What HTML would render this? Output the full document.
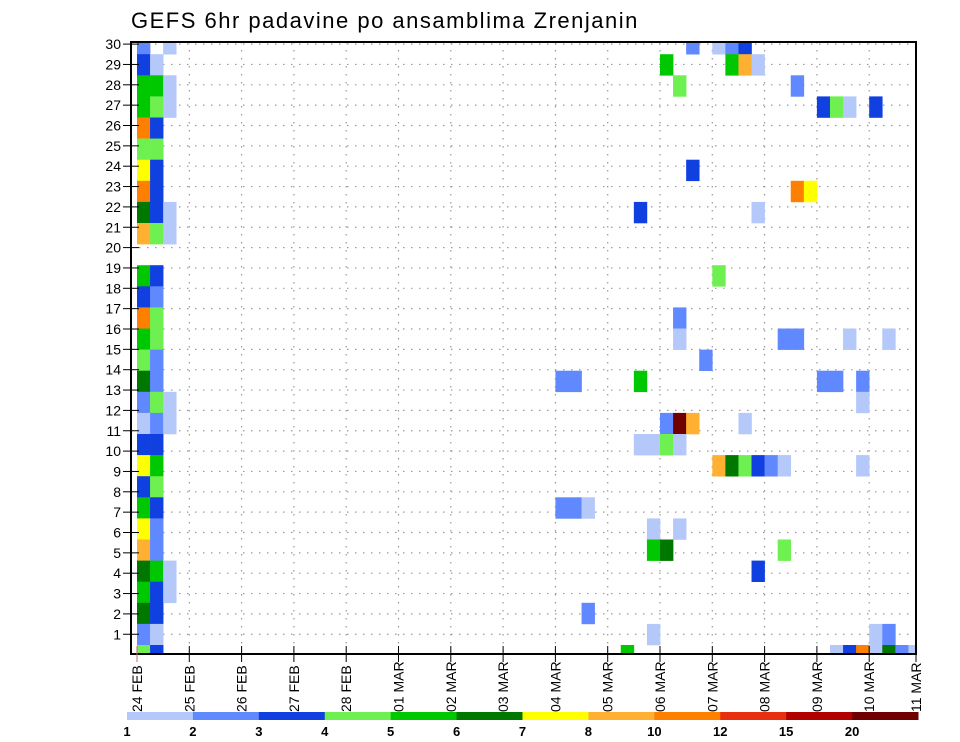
<!DOCTYPE html>
<html><head><meta charset="utf-8"><style>
html,body{margin:0;padding:0;background:#fff;}
svg{display:block;font-family:"Liberation Sans",sans-serif;}
</style></head><body>
<svg id="chart" width="960" height="742" viewBox="0 0 960 742">
<text x="131" y="28" font-size="22" letter-spacing="1.5" fill="#000">GEFS 6hr padavine po ansamblima Zrenjanin</text>
<defs><clipPath id="plotclip"><rect x="131" y="42" width="785" height="612"/></clipPath></defs>
<g id="grid"></g>
<g id="cells" clip-path="url(#plotclip)"></g>
<rect x="131" y="42" width="785" height="612" fill="none" stroke="#000" stroke-width="2"/>
<g id="yaxis"></g>
<g id="xaxis"></g>
<g id="colorbar"></g>
</svg>
<script>
// data arrays
const dayLabels = ["24 FEB","25 FEB","26 FEB","27 FEB","28 FEB","01 MAR","02 MAR","03 MAR","04 MAR","05 MAR","06 MAR","07 MAR","08 MAR","09 MAR","10 MAR","11 MAR"];
const yTickLabels = [1,2,3,4,5,6,7,8,9,10,11,12,13,14,15,16,17,18,19,20,21,22,23,24,25,26,27,28,29,30];
const levels = [1,2,3,4,5,6,7,8,10,12,15,20];
const levelColors = ["#b4c8fa","#6088ff","#1040e0","#6ef050","#00c800","#007800","#ffff00","#ffb030","#ff8000","#e83010","#b00000","#700000"];
const cellRow = [
29,29, 28,28, 27,27,27, 26,26,26, 25,25, 24,24, 23,23, 22,22, 21,21,21, 20,20,20,
18,18, 17,17, 16,16, 15,15, 14,14, 13,13, 12,12,12, 11,11,11, 10,10, 9,9, 8,8, 7,7, 6,6, 5,5, 4,4,4, 3,3,3, 2,2, 1,1, 0,0,
29,29,29,29, 28,28,28,28, 27,27, 26,26,26,26, 23, 22,22, 21,21, 18, 16, 15,15,15,15,15, 14,
13,13,13,13,13,13, 12, 11,11,11,11, 10,10,10,10, 9,9,9,9,9,9,9,
7,7,7, 6,6, 5,5,5, 4, 2, 1,1,1, 0,0,0,0,0,0,0,0];
const cellCol = [
0,2, 0,1, 0,1,2, 0,1,2, 0,1, 0,1, 0,1, 0,1, 0,1,2, 0,1,2,
0,1, 0,1, 0,1, 0,1, 0,1, 0,1, 0,1,2, 0,1,2, 0,1, 0,1, 0,1, 0,1, 0,1, 0,1, 0,1,2, 0,1,2, 0,1, 0,1, 0,1,
42,44,45,46, 40,45,46,47, 41,50, 52,53,54,56, 42, 50,51, 38,47, 44, 41, 41,49,50,54,57, 43,
32,33,38,52,53,55, 55, 40,41,42,46, 38,39,40,41, 44,45,46,47,48,49,55,
32,33,34, 39,41, 39,40,49, 47, 34, 39,56,57, 37,53,54,55,56,57,58,59];
const cellVal = [
2.5,1.5, 3.5,1.5, 5.5,5.5,1.5, 5.5,4.5,1.5, 11,3.5, 4.5,4.5, 7.5,3.5, 11,3.5, 6.5,3.5,1.5, 9,4.5,1.5,
5.5,3.5, 3.5,2.5, 11,4.5, 5.5,4.5, 4.5,2.5, 6.5,2.5, 2.5,4.5,1.5, 1.5,2.5,1.5, 3.5,3.5, 7.5,5.5, 3.5,4.5, 5.5,3.5, 7.5,2.5, 9,2.5, 6.5,5.5,1.5, 5.5,3.5,1.5, 6.5,3.5, 2.5,1.5, 4.5,3.5,
2.5,1.5,2.5,3.5, 5.5,5.5,9,1.5, 4.5,2.5, 3.5,4.5,1.5,3.5, 3.5, 11,7.5, 3.5,1.5, 4.5, 2.5, 1.5,2.5,2.5,1.5,1.5, 2.5,
2.5,2.5,5.5,2.5,2.5,2.5, 1.5, 2.5,22,9,1.5, 1.5,1.5,4.5,1.5, 9,6.5,4.5,3.5,2.5,1.5,1.5,
2.5,2.5,1.5, 1.5,1.5, 5.5,6.5,4.5, 3.5, 2.5, 1.5,1.5,2.5, 5.5,1.5,3.5,11,1.5,6.5,2.5,1.5];

// scales
const X0 = 137, DAY = 52.3, COL = DAY/4;
const PL = 131, PR = 916, PT = 42, PB = 654;
function xCol(c){ return X0 + COL*c; }
function xDay(d){ return X0 + DAY*d; }
function yRowTop(i){ return 645 - 21.1*i; }
function yTick(k){ return 654.6 - 20.35*k; }
function levelIndex(v){ let k=0; for(let j=0;j<levels.length;j++){ if(v>=levels[j]) k=j; } return k; }

const NS = "http://www.w3.org/2000/svg";
function mk(tag, attrs, parent){ const e=document.createElementNS(NS,tag); for(const a in attrs) e.setAttribute(a,attrs[a]); parent.appendChild(e); return e; }

// grid
const grid = document.getElementById('grid');
for(let k=1;k<=30;k++){
  const y=yTick(k);
  const l=mk('line',{x1:PL,x2:PR,y1:y,y2:y,stroke:'#999','stroke-width':1.2,'stroke-dasharray':'1.5 6.5'},grid);
  
  
}
for(let d=1; d<dayLabels.length; d++){
  const x=xDay(d); if(x>PR) continue;
  const l=mk('line',{x1:x,x2:x,y1:PT,y2:PB,stroke:'#999','stroke-width':1.2,'stroke-dasharray':'1.5 6.5'},grid);
  
  
}

// cells
const cells = document.getElementById('cells');
for(let n=0;n<cellRow.length;n++){
  const r=mk('rect',{x:xCol(cellCol[n]),y:yRowTop(cellRow[n]),width:COL+0.3,height:21.4,fill:levelColors[levelIndex(cellVal[n])]},cells);
  
  
}

// y axis
const ya = document.getElementById('yaxis');
for(let n=0;n<yTickLabels.length;n++){
  const k=yTickLabels[n], y=yTick(k);
  const t=mk('line',{x1:123,x2:139,y1:y,y2:y,stroke:'#000','stroke-width':1},ya);
  
  
  const tx=mk('text',{x:121,y:y+5,'font-size':14,'text-anchor':'end',fill:'#000'},ya);
  tx.textContent=k;
  
  
}

// x axis
const xa = document.getElementById('xaxis');
for(let d=0; d<dayLabels.length; d++){
  let x=xDay(d); if(x>PR) x=PR;
  const t=mk('line',{x1:x,x2:x,y1:PB-8,y2:PB+8,stroke:(d==0?'#c66':'#000'),'stroke-width':1},xa);
  
  
  const tx=mk('text',{x:0,y:0,'font-size':14,fill:'#000',transform:`translate(${x+5},712) rotate(-90)`},xa);
  tx.textContent=dayLabels[d];
  
  
}

// colorbar
const cb = document.getElementById('colorbar');
const CB0=127, CBW=(918-127)/levels.length;
for(let j=0;j<levels.length;j++){
  const r=mk('rect',{x:CB0+CBW*j,y:712,width:CBW+0.5,height:8,fill:levelColors[j]},cb);
  
  
  const tx=mk('text',{x:CB0+CBW*j,y:736,'font-size':13,'font-weight':'bold','text-anchor':'middle',fill:'#000'},cb);
  tx.textContent=levels[j];
  
  
}
</script>
</body></html>
